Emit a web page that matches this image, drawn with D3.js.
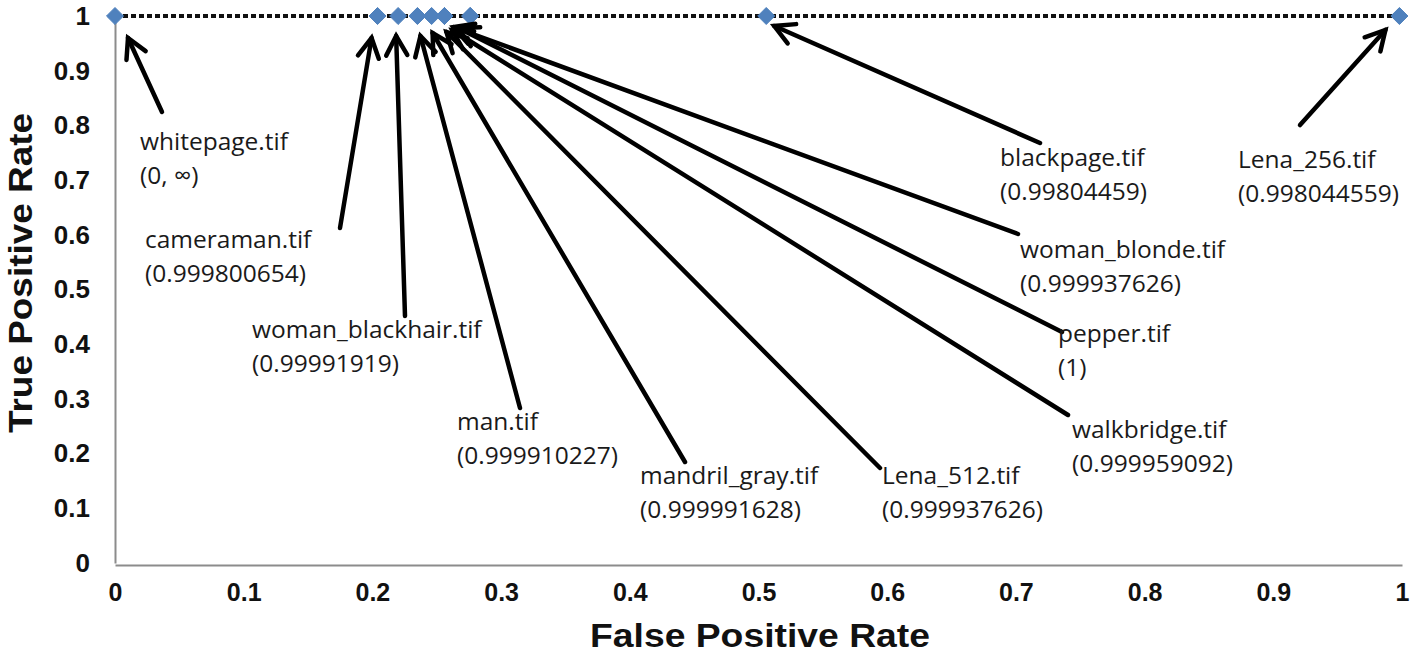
<!DOCTYPE html>
<html>
<head>
<meta charset="utf-8">
<script src="https://cdn.jsdelivr.net/npm/d3@7"></script>
<style>
  html, body { margin: 0; padding: 0; background: #fff; }
  svg { display: block; }
</style>
</head>
<body>
<svg id="chart" width="1416" height="654"></svg>
<script>
// ---- data ----
const images = ["whitepage.tif", "cameraman.tif", "woman_blackhair.tif", "man.tif", "mandril_gray.tif",
                "Lena_512.tif", "walkbridge.tif", "pepper.tif", "woman_blonde.tif", "blackpage.tif", "Lena_256.tif"];
const fpr = [0, 0.204, 0.220, 0.235, 0.246, 0.256, 0.276, 0.276, 0.256, 0.506, 0.998];
const tpr = [1, 1, 1, 1, 1, 1, 1, 1, 1, 1, 1];
const scores = ["(0, \u221E)", "(0.999800654)", "(0.99991919)", "(0.999910227)", "(0.999991628)",
                "(0.999937626)", "(0.999959092)", "(1)", "(0.999937626)", "(0.99804459)", "(0.998044559)"];
const xTicks = [0, 0.1, 0.2, 0.3, 0.4, 0.5, 0.6, 0.7, 0.8, 0.9, 1];
const yTicks = [0, 0.1, 0.2, 0.3, 0.4, 0.5, 0.6, 0.7, 0.8, 0.9, 1];
const xTitle = "False Positive Rate";
const yTitle = "True Positive Rate";

// ---- annotation layout (pixel placement of callouts) ----
const labelPos = [[140,150],[145,248],[252,338],[457,430],[640,484],[882,484],[1072,438],[1058,342],[1020,258],[1000,166],[1238,168]];
const tailPos  = [[162,112],[340,228],[405,316],[520,408],[685,462],[880,468],[1068,415],[1062,332],[1018,234],[1040,143],[1300,125]];
const headOff  = [[13,22],[-6,22],[-2,20],[3,20],[1,17],[2,16],[-18,14],[-12,12],[9,11],[8,10],[-14,14]];

const svg = d3.select("#chart");
const x = d3.scaleLinear().domain([0, 1]).range([115, 1402]);
const y = d3.scaleLinear().domain([0, 1]).range([563, 16]);

// axes
const gx = svg.append("g").attr("transform", `translate(0,${y(0) + 2})`)
  .call(d3.axisBottom(x).tickValues(xTicks).tickSize(0).tickPadding(18).tickFormat(d => d3.format("")(d)));
gx.select(".domain").attr("stroke", "#8c8c8c").attr("stroke-width", 2);
gx.selectAll("text").attr("font-family", "'Liberation Sans', Arial, sans-serif").attr("font-weight", "bold")
  .attr("font-size", 25).attr("fill", "#111");

const gy = svg.append("g").attr("transform", `translate(${x(0)},0)`)
  .call(d3.axisLeft(y).tickValues(yTicks).tickSize(0).tickPadding(25).tickFormat(d => d3.format("")(d)));
gy.select(".domain").attr("stroke", "#8c8c8c").attr("stroke-width", 2);
gy.selectAll("text").attr("font-family", "'Liberation Sans', Arial, sans-serif").attr("font-weight", "bold")
  .attr("font-size", 26).attr("fill", "#111");

// axis titles
svg.append("text").attr("x", 760).attr("y", 647).attr("text-anchor", "middle")
  .attr("font-family", "'Liberation Sans', Arial, sans-serif").attr("font-weight", "bold")
  .attr("font-size", 33).attr("fill", "#111")
  .attr("textLength", 340).attr("lengthAdjust", "spacingAndGlyphs").text(xTitle);
svg.append("text").attr("transform", "translate(32,273) rotate(-90)").attr("text-anchor", "middle")
  .attr("font-family", "'Liberation Sans', Arial, sans-serif").attr("font-weight", "bold")
  .attr("font-size", 33).attr("fill", "#111")
  .attr("textLength", 320).attr("lengthAdjust", "spacingAndGlyphs").text(yTitle);

// series line (dotted) sorted by fpr
const pts = fpr.map((f, i) => ({ f, t: tpr[i] })).sort((a, b) => a.f - b.f);
svg.append("path").datum(pts)
  .attr("d", d3.line().x(d => x(d.f)).y(d => y(d.t)))
  .attr("fill", "none").attr("stroke", "#111").attr("stroke-width", 4).attr("stroke-dasharray", "5,3");

// markers (diamonds)
svg.append("g").selectAll("path").data(pts).join("path")
  .attr("transform", d => `translate(${x(d.f)},${y(d.t)})`)
  .attr("d", d3.symbol(d3.symbolDiamond2, 185))
  .attr("fill", "#4F81BD").attr("stroke", "#4F81BD").attr("stroke-width", 1);

// callouts
const ann = svg.append("g");
images.forEach((name, i) => {
  const hx = x(fpr[i]) + headOff[i][0], hy = y(tpr[i]) + headOff[i][1];
  const [tx, ty] = tailPos[i];
  ann.append("line").attr("x1", tx).attr("y1", ty).attr("x2", hx).attr("y2", hy)
    .attr("stroke", "#000").attr("stroke-width", 4.5).attr("stroke-linecap", "round");
  const ang = Math.atan2(hy - ty, hx - tx), L = 22, a = 0.5;
  const p1 = [hx - L * Math.cos(ang - a), hy - L * Math.sin(ang - a)];
  const p2 = [hx - L * Math.cos(ang + a), hy - L * Math.sin(ang + a)];
  ann.append("path").attr("d", `M${p1}L${hx},${hy}L${p2}`)
    .attr("fill", "none").attr("stroke", "#000").attr("stroke-width", 4.5)
    .attr("stroke-linejoin", "miter").attr("stroke-linecap", "round");
  const t = ann.append("text").attr("font-family", "'Open Sans', sans-serif").attr("font-size", 24.5).attr("fill", "#1a1a1a");
  t.append("tspan").attr("x", labelPos[i][0]).attr("y", labelPos[i][1]).text(name);
  t.append("tspan").attr("x", labelPos[i][0]).attr("y", labelPos[i][1] + 34).text(scores[i]);
});
</script>
</body>
</html>
